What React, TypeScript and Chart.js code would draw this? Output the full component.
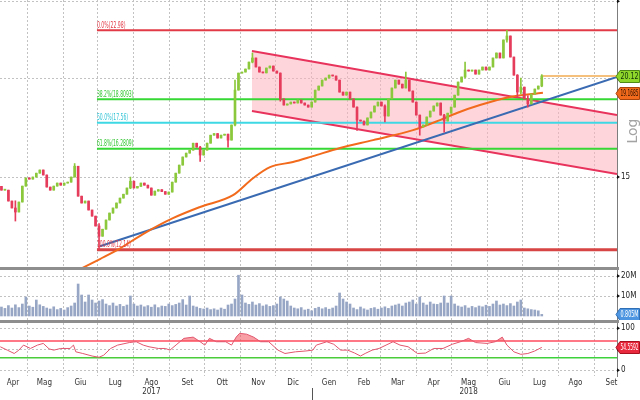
import React, { useEffect, useRef } from 'react';
import { Chart, registerables } from 'chart.js';

Chart.register(...registerables);

const FONT = "'Liberation Sans Narrow', 'DejaVu Sans Condensed', 'Liberation Sans', Arial, sans-serif";

// ---------------- data (x = calendar days counted from 1 Apr 2017) ----------------
const xRange = [6.76, 537.74];
const monthStarts = [30, 61, 91, 122, 153, 183, 214, 244, 275, 306, 334, 365, 395, 426, 456, 487, 518];
const monthMids = [18, 45, 76, 106, 137, 168, 198, 229, 259, 290, 320, 349, 380, 410, 441, 471, 502, 533];
const monthLabels = [['Apr'], ['Mag'], ['Giu'], ['Lug'], ['Ago', '2017'], ['Set'], ['Ott'], ['Nov'], ['Dic'],
  ['Gen'], ['Feb'], ['Mar'], ['Apr'], ['Mag', '2018'], ['Giu'], ['Lug'], ['Ago'], ['Set']];
const yearStartDay = 275;

const candleFirstDay = 8;
const candleStepDays = 3;
const firstOpen = 14.6;
const closes = [
  14.44, 14.44, 13.99, 13.71, 13.55, 13.95, 14.61, 14.96, 14.91, 15.00,
  15.17, 15.31, 15.09, 14.57, 14.44, 14.61, 14.74, 14.65, 14.74, 14.78,
  15.00, 15.48, 14.19, 13.91, 13.99, 13.63, 13.39, 13.01, 12.63, 12.89,
  13.24, 13.51, 13.71, 13.91, 14.11, 14.27, 14.53, 14.82, 14.53, 14.60,
  14.74, 14.65, 14.53, 14.23, 14.40, 14.46, 14.38, 14.27, 14.36, 14.78,
  15.17, 15.53, 15.90, 16.08, 16.22, 16.55, 16.36, 15.99, 16.22, 16.55,
  16.94, 17.02, 16.80, 16.94, 16.99, 16.70, 17.45, 19.31, 20.29, 20.35,
  20.53, 20.95, 21.20, 20.65, 20.35, 20.30, 20.59, 20.71, 20.41, 20.29,
  18.82, 18.49, 18.55, 18.65, 18.60, 18.76, 18.60, 18.49, 18.38, 18.65,
  19.31, 19.54, 19.88, 20.00, 20.17, 20.12, 19.88, 19.20, 19.03, 19.20,
  18.82, 18.38, 17.70, 17.65, 17.45, 17.81, 18.12, 18.44, 18.65, 18.44,
  17.91, 18.82, 19.43, 19.88, 19.65, 19.43, 19.88, 19.26, 18.65, 17.96,
  17.35, 17.45, 17.86, 18.17, 18.44, 18.60, 17.96, 17.65, 18.06, 18.38,
  19.03, 19.77, 20.06, 20.47, 20.41, 20.47, 20.23, 20.47, 20.65, 20.47,
  20.65, 21.20, 21.51, 21.20, 22.34, 22.60, 21.26, 20.17, 19.20, 19.48,
  18.82, 18.55, 19.09, 19.37, 19.54, 20.12,
];
// [candle index, low, high] for the visible long wicks
const wickExtremes = [
  [4, 13.2, 14.0], [21, 15.1, 15.6], [28, 12.14, 13.1], [37, 14.5, 15.0], [57, 15.7, 16.4],
  [65, 16.36, 17.0], [67, 17.4, 19.88], [72, 20.9, 21.51], [80, 18.7, 20.3], [102, 17.18, 18.4],
  [110, 17.6, 18.5], [116, 19.6, 20.35], [120, 16.94, 17.9], [127, 17.09, 18.0], [133, 20.0, 20.95],
  [145, 22.2, 22.98], [148, 18.93, 20.2], [149, 19.1, 20.0], [151, 18.38, 19.0], [155, 19.5, 20.2],
];
const volumes = [
  4.5, 3.8, 5.2, 4.0, 5.6, 4.2, 6.0, 9.5, 5.0, 4.4,
  8.0, 5.6, 4.8, 4.0, 3.5, 4.6, 3.2, 3.8, 3.0, 4.2,
  5.0, 6.5, 16.0, 10.5, 7.0, 10.5, 8.0, 6.5, 7.5, 8.2,
  6.0, 5.2, 6.5, 5.0, 5.8, 4.8, 5.5, 10.0, 6.0, 5.0,
  5.5, 4.6, 5.2, 4.4, 5.6, 4.2, 5.0, 4.8, 6.0, 5.2,
  5.8, 6.5, 8.2, 5.5, 10.0, 5.0, 4.5, 3.8, 3.5, 4.0,
  3.2, 3.6, 3.0, 4.0, 3.4, 5.5, 6.0, 8.5, 20.4, 10.5,
  6.5, 5.8, 7.0, 5.5, 6.2, 5.0, 5.6, 4.8, 5.2, 6.0,
  9.5, 8.5, 7.5, 5.0, 4.0, 3.6, 4.2, 3.0, 3.4, 2.6,
  3.8, 4.4, 3.6, 4.2, 3.4, 4.0, 5.0, 11.5, 8.5, 7.0,
  6.0, 4.0, 3.2, 4.5, 3.6, 3.0, 3.8, 4.2, 3.4, 4.0,
  4.6, 3.8, 5.0, 5.5, 6.0, 5.0, 6.5, 7.0, 8.0, 6.0,
  9.5, 6.5, 5.5, 7.0, 6.0, 5.8, 6.5, 10.0, 6.5, 10.0,
  6.0, 5.0, 4.5, 5.2, 4.0, 4.8, 4.2, 5.0, 4.6, 5.4,
  4.8, 6.0, 7.5, 5.5, 6.0, 5.2, 6.2, 5.0, 7.0, 8.0,
  4.0, 3.6, 3.2, 3.0, 2.6, 0.805,
];
const rsiDays = [7, 13, 19, 23, 27, 33, 39, 44, 49, 53, 59, 67, 70, 72, 78, 86, 92, 96, 102, 108,
  118, 124, 130, 135, 143, 149, 153, 159, 165, 173, 179, 183, 187, 193, 201, 206, 210, 213, 219, 225,
  231, 238, 246, 252, 261, 270, 276, 279, 288, 294, 300, 306, 312, 317, 321, 327, 333, 339, 345, 351,
  358, 366, 373, 380, 388, 396, 403, 410, 416, 426, 433, 439, 443, 449, 455, 461, 467, 473];
const rsiValues = [56, 48, 40, 48, 60, 52, 60, 64, 51, 48, 52, 52, 60, 44, 40, 34, 31, 36, 52, 60,
  66, 68, 60, 56, 52, 52, 48, 62, 76, 79, 68, 60, 76, 68, 68, 60, 79, 88, 86, 79,
  68, 68, 48, 40, 44, 46, 48, 60, 68, 62, 48, 48, 41, 34, 40, 48, 52, 60, 68, 60,
  56, 40, 41, 52, 52, 62, 68, 76, 66, 64, 68, 79, 60, 44, 38, 40, 46, 54.5592];
const maDays = [67, 92.8, 107.5, 129.8, 155.6, 178.9, 207.3, 224.5, 239.1, 258.9, 276.1, 299.4, 327.8,
  362.2, 385.4, 400, 419.8, 445.7, 474];
const maValues = [11.31, 11.82, 12.13, 12.71, 13.31, 13.75, 14.23, 14.95, 15.44, 15.67, 15.94, 16.32, 16.70,
  17.19, 17.70, 18.07, 18.49, 18.93, 19.1685];
const trendDays = [92.8, 537.74];
const trendValues = [12.27, 20.06];
const channelDays = [223.6, 537.74];
const channelUpper = [21.63, 17.96];
const channelLower = [18.17, 15.13];
const fibStartDay = 90.2;
const fibValues = [22.98, 18.8093, 17.56, 16.2809, 12.14];
const fibLabels = ['0.0%(22.98)', '38.2%(18.8093)', '50.0%(17.56)', '61.8%(16.2809)', '100.0%(12.14)'];
const lastPrice = 20.12;
const lastMa = 19.1685;
const lastVolume = 0.805;
const lastRsi = 54.5592;
const rsiUpper = 70;
const rsiLower = 30;
const priceRange = [11.55, 25.09];
const priceTicks = [15, 20, 25];
const priceTickLabels = ['15', '20', ''];
const volumeRange = [-2, 23];
const volumeTicks = [10, 20];
const volumeTickLabels = ['10M', '20M'];
const rsiRange = [-13.57, 112.6];
const rsiTicks = [0, 50, 100];
const rsiTickLabels = ['0', '50', '100'];

// ---------------- styles ----------------
const GRID = '#c2c2c2';
const UP = '#8cc83c';
const DOWN = '#e63c5c';
const fibColors = ['#e23a46', '#35d835', '#3ed8e4', '#35d835', '#d84545'];
const fibTextColors = ['#e23a46', '#2fc52f', '#2fc3d6', '#2fc52f', '#e23a46'];
const fibWidths = [2, 2, 2, 2, 3];

function monthGridAxis() {
  return {
    type: 'linear', position: 'bottom', min: xRange[0], max: xRange[1], offset: false, bounds: 'data',
    afterBuildTicks: (s: any) => { s.ticks = monthStarts.map((v) => ({ value: v })); },
    ticks: { display: false },
    grid: { display: true, color: GRID, lineWidth: 1, drawTicks: false, offset: false },
    border: { display: false, dash: [2, 2] },
    afterFit: (s: any) => { s.height = 0; s.paddingLeft = 0; s.paddingRight = 0; },
  };
}

function rightAxis(type: string, range: number[], ticks: number[], labels: string[]) {
  return {
    type, position: 'right', min: range[0], max: range[1], bounds: 'data',
    afterBuildTicks: (s: any) => { s.ticks = ticks.map((v) => ({ value: v })); },
    ticks: {
      autoSkip: false, padding: 4, color: '#222', font: { size: 8, family: FONT },
      callback: (v: number) => { const k = ticks.indexOf(v); return k >= 0 ? labels[k] : ''; },
    },
    grid: { color: GRID, lineWidth: 1, drawTicks: false },
    border: { display: true, color: '#7d7d7d', width: 1, dash: [2, 2] },
    afterFit: (s: any) => { s.width = 23; s.paddingTop = 0; s.paddingBottom = 0; },
  };
}

function valueBox(chart: any, value: number, text: string, bg: string, fg: string, edge: string) {
  const { ctx } = chart;
  const r = chart.chartArea.right;
  const w = chart.width;
  const y = Math.round(chart.scales.y.getPixelForValue(value)) + 0.5;
  ctx.save();
  ctx.beginPath();
  ctx.moveTo(r - 1, y);
  ctx.lineTo(r + 3, y - 6);
  ctx.lineTo(w - 0.5, y - 6);
  ctx.lineTo(w - 0.5, y + 6);
  ctx.lineTo(r + 3, y + 6);
  ctx.closePath();
  ctx.fillStyle = bg;
  ctx.fill();
  ctx.strokeStyle = edge;
  ctx.lineWidth = 1;
  ctx.stroke();
  ctx.fillStyle = fg;
  ctx.font = `8px ${FONT}`;
  ctx.textAlign = 'left';
  ctx.textBaseline = 'middle';
  ctx.fillText(text, r + 3.5, y + 0.5, w - r - 5);
  ctx.restore();
}

function tickArrows(chart: any) {
  const s = chart.scales.y;
  const { ctx } = chart;
  const r = chart.chartArea.right;
  ctx.save();
  ctx.fillStyle = '#111';
  s.ticks.forEach((t: any) => {
    const p = s.getPixelForValue(t.value);
    ctx.beginPath();
    ctx.moveTo(r, p - 2);
    ctx.lineTo(r + 3, p);
    ctx.lineTo(r, p + 2);
    ctx.closePath();
    ctx.fill();
  });
  ctx.restore();
}

const baseOptions = {
  responsive: false, animation: false, devicePixelRatio: 1, events: [],
  layout: { padding: 0 },
  plugins: { legend: { display: false }, tooltip: { enabled: false } },
  elements: { point: { radius: 0 }, line: { tension: 0 } },
};

export default function App() {
  const mainRef = useRef<HTMLCanvasElement>(null);
  const volRef = useRef<HTMLCanvasElement>(null);
  const rsiRef = useRef<HTMLCanvasElement>(null);

  useEffect(() => {
    const days = closes.map((_, i) => candleFirstDay + candleStepDays * i);
    const opens = closes.map((_, i) => (i === 0 ? firstOpen : closes[i - 1]));
    const lows = closes.map((c, i) => Math.min(c, opens[i]));
    const highs = closes.map((c, i) => Math.max(c, opens[i]));
    wickExtremes.forEach(([i, lo, hi]) => {
      lows[i] = Math.min(lows[i], lo);
      highs[i] = Math.max(highs[i], hi);
    });
    const candleColors = closes.map((c, i) => (c >= opens[i] ? UP : DOWN));
    const xEnd = xRange[1];
    const last = days.length - 1;
    const seg = (xs: number[], ys: number[]) => xs.map((x, i) => ({ x, y: ys[i] }));

    const mainPlugin = {
      id: 'mainDecor',
      afterDatasetsDraw(chart: any) {
        const { ctx } = chart;
        const xs = chart.scales.x;
        const ys = chart.scales.y;
        ctx.save();
        ctx.font = `8px ${FONT}`;
        ctx.textAlign = 'left';
        ctx.textBaseline = 'alphabetic';
        fibValues.forEach((v, i) => {
          ctx.fillStyle = fibTextColors[i];
          const label = fibLabels[i];
          ctx.fillText(label, xs.getPixelForValue(fibStartDay), ys.getPixelForValue(v) - 2.5, label.length * 2.6);
        });
        ctx.restore();
      },
      afterDraw(chart: any) {
        tickArrows(chart);
        valueBox(chart, lastPrice, lastPrice.toFixed(2), '#8fd62b', '#10300a', '#4f8a17');
        valueBox(chart, lastMa, String(lastMa), '#f26a1b', '#2a1000', '#a8440c');
        const { ctx } = chart;
        ctx.save();
        ctx.translate(chart.width - 7, chart.chartArea.top + 131);
        ctx.rotate(-Math.PI / 2);
        ctx.font = "14px 'DejaVu Sans', sans-serif";
        ctx.fillStyle = '#a3a3a3';
        ctx.textAlign = 'center';
        ctx.textBaseline = 'middle';
        ctx.fillText('Log', 0, 0);
        ctx.restore();
      },
    };

    const main = new Chart(mainRef.current as HTMLCanvasElement, {
      type: 'line',
      data: {
        datasets: [
          {
            type: 'bar', data: days.map((d, i) => ({ x: d, y: [opens[i], closes[i]] })),
            backgroundColor: candleColors, borderWidth: 0, barThickness: 2, minBarLength: 1, grouped: false, order: 0,
          },
          {
            type: 'bar', data: days.map((d, i) => ({ x: d, y: [lows[i], highs[i]] })),
            backgroundColor: candleColors, borderWidth: 0, barThickness: 1, grouped: false, order: 1,
          },
          {
            data: seg(channelDays, channelUpper), borderColor: '#e8335c', borderWidth: 2,
            fill: '+1', backgroundColor: 'rgba(255, 178, 192, 0.55)', order: 9,
          },
          { data: seg(channelDays, channelLower), borderColor: '#e8335c', borderWidth: 2, fill: false, order: 8 },
          ...fibValues.map((v, i) => ({
            data: [{ x: fibStartDay, y: v }, { x: xEnd, y: v }],
            borderColor: fibColors[i], borderWidth: fibWidths[i], fill: false, order: 5,
          })),
          { data: seg(trendDays, trendValues), borderColor: '#3a6bb2', borderWidth: 2, fill: false, order: 4 },
          {
            data: seg(maDays, maValues), borderColor: '#f26b1d', borderWidth: 2, fill: false, order: 3,
            cubicInterpolationMode: 'monotone',
          },
          {
            data: [{ x: days[last], y: lastPrice }, { x: xEnd, y: lastPrice }],
            borderColor: '#f4c07c', borderWidth: 2, fill: false, order: 3,
          },
        ],
      },
      options: {
        ...baseOptions,
        scales: {
          x: monthGridAxis(),
          y: rightAxis('logarithmic', priceRange, priceTicks, priceTickLabels),
        },
      } as any,
      plugins: [mainPlugin],
    } as any);

    const volPlugin = {
      id: 'volDecor',
      afterDraw(chart: any) {
        tickArrows(chart);
        valueBox(chart, lastVolume, `${lastVolume}M`, '#4d95e0', '#ffffff', '#2f6fb5');
      },
    };

    const vol = new Chart(volRef.current as HTMLCanvasElement, {
      type: 'bar',
      data: {
        datasets: [{
          data: days.map((d, i) => ({ x: d, y: volumes[i] })),
          backgroundColor: '#97a6c4', borderWidth: 0, barThickness: 2, grouped: false,
        }],
      },
      options: {
        ...baseOptions,
        scales: {
          x: monthGridAxis(),
          y: rightAxis('linear', volumeRange, volumeTicks, volumeTickLabels),
        },
      } as any,
      plugins: [volPlugin],
    } as any);

    const rsiPlugin = {
      id: 'rsiDecor',
      afterDraw(chart: any) {
        tickArrows(chart);
        valueBox(chart, lastRsi, String(lastRsi), '#e8293d', '#ffffff', '#a8101f');
        const { ctx } = chart;
        const px = Math.round(chart.scales.x2.getPixelForValue(yearStartDay)) + 0.5;
        ctx.save();
        ctx.strokeStyle = '#555';
        ctx.lineWidth = 1;
        ctx.beginPath();
        ctx.moveTo(px, chart.chartArea.bottom + 12);
        ctx.lineTo(px, chart.height);
        ctx.stroke();
        ctx.restore();
      },
    };

    const rsiPoints = seg(rsiDays, rsiValues);
    const rsi = new Chart(rsiRef.current as HTMLCanvasElement, {
      type: 'line',
      data: {
        datasets: [
          {
            data: rsiPoints, borderColor: '#e2566e', borderWidth: 1, order: 0,
            fill: { target: { value: rsiUpper }, above: 'rgba(240, 80, 90, 0.55)', below: 'rgba(0,0,0,0)' },
          },
          {
            data: rsiPoints, borderColor: 'rgba(0,0,0,0)', borderWidth: 1, order: 1,
            fill: { target: { value: rsiLower }, above: 'rgba(0,0,0,0)', below: 'rgba(210, 150, 40, 0.6)' },
          },
          { data: [{ x: xRange[0], y: rsiUpper }, { x: xRange[1], y: rsiUpper }], borderColor: '#ff4b5c', borderWidth: 1.5, fill: false, order: 3 },
          { data: [{ x: xRange[0], y: rsiLower }, { x: xRange[1], y: rsiLower }], borderColor: '#3cd23c', borderWidth: 1.5, fill: false, order: 3 },
        ],
      },
      options: {
        ...baseOptions,
        scales: {
          x: monthGridAxis(),
          x2: {
            type: 'linear', position: 'bottom', min: xRange[0], max: xRange[1], offset: false, bounds: 'data',
            afterBuildTicks: (s: any) => { s.ticks = monthMids.map((v) => ({ value: v })); },
            ticks: {
              autoSkip: false, maxRotation: 0, minRotation: 0, padding: 2, color: '#333',
              font: { size: 8, family: FONT, lineHeight: 1.2 },
              callback: (_v: number, i: number) => monthLabels[i],
            },
            grid: { display: false, drawTicks: false },
            border: { display: false },
            afterFit: (s: any) => { s.height = 24; s.paddingLeft = 0; s.paddingRight = 0; },
          },
          y: rightAxis('linear', rsiRange, rsiTicks, rsiTickLabels),
        },
      } as any,
      plugins: [rsiPlugin],
    } as any);

    return () => {
      main.destroy();
      vol.destroy();
      rsi.destroy();
    };
  }, []);

  return (
    <div style={{ position: 'fixed', left: 0, top: 0, width: 640, height: 400, background: '#ffffff', overflow: 'hidden' }}>
      <canvas ref={mainRef} width={640} height={267} style={{ position: 'absolute', left: 0, top: 0 }} />
      <canvas ref={volRef} width={640} height={50} style={{ position: 'absolute', left: 0, top: 270 }} />
      <canvas ref={rsiRef} width={640} height={77} style={{ position: 'absolute', left: 0, top: 323 }} />
      <div style={{ position: 'absolute', left: 0, top: 267, width: 619, height: 3, background: '#8e8e8e' }} />
      <div style={{ position: 'absolute', left: 0, top: 320, width: 619, height: 3, background: '#8e8e8e' }} />
    </div>
  );
}
